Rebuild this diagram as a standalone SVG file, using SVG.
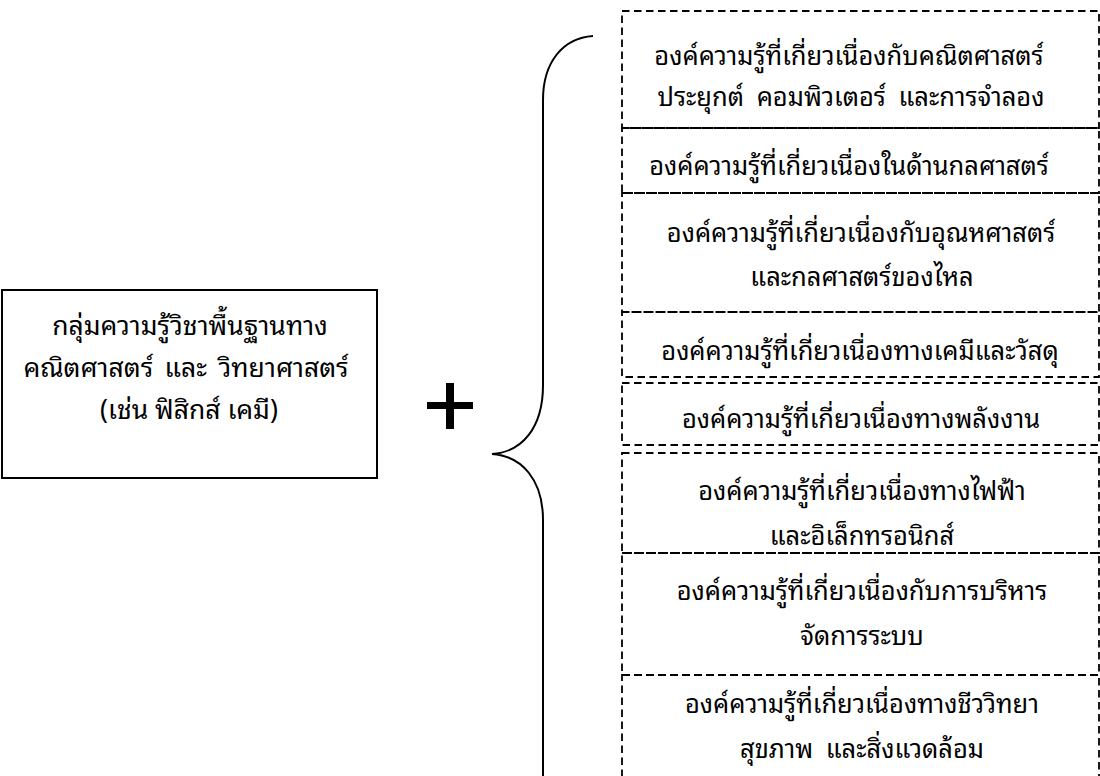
<svg xmlns="http://www.w3.org/2000/svg" width="1100" height="776" viewBox="0 0 1100 776">
<style>
text{font-family:"Noto Sans Thai Looped","Loma","Noto Sans Thai","Noto Sans","DejaVu Sans",sans-serif;font-size:25.5px;fill:#000;text-anchor:middle;word-spacing:6px}
.lt{font-size:26.5px}
.dbox{fill:none;stroke:#000;stroke-width:1.8;stroke-dasharray:7.5,4.5}
.sbox{fill:#fff;stroke:#000;stroke-width:2}
.brace{fill:none;stroke:#000;stroke-width:2}
</style>
<rect width="1100" height="776" fill="#fff"/>
<g id="base">
<rect class="sbox" x="2" y="290" width="375" height="188"/>
<text class="lt" x="190" y="335">กลุ่มความรู้วิชาพื้นฐานทาง</text>
<text class="lt" x="186" y="377" style="word-spacing:4.5px">คณิตศาสตร์ และ วิทยาศาสตร์</text>
<text class="lt" x="189" y="419" style="word-spacing:0">(เช่น ฟิสิกส์ เคมี)</text>
</g>
<g id="plus">
<rect x="427" y="402" width="46" height="7" fill="#000"/>
<rect x="446" y="383" width="8" height="46" fill="#000"/>
</g>
<g id="connectors">
<path class="brace" d="M593 36 C563 38 543 62 543 100 L543 385 C543 428 522 452 492 454 C522 456 543 480 543 520 L543 776"/>
</g>
<g id="k1"><rect class="dbox" x="622" y="11" width="477" height="117"/>
<text x="849" y="65">องค์ความรู้ที่เกี่ยวเนื่องกับคณิตศาสตร์</text>
<text x="851" y="106">ประยุกต์ คอมพิวเตอร์ และการจำลอง</text></g>
<g id="k2"><rect class="dbox" x="622" y="128" width="477" height="65"/>
<text x="849" y="175">องค์ความรู้ที่เกี่ยวเนื่องในด้านกลศาสตร์</text></g>
<g id="k3"><rect class="dbox" x="622" y="193" width="477" height="119"/>
<text x="861" y="242">องค์ความรู้ที่เกี่ยวเนื่องกับอุณหศาสตร์</text>
<text x="862" y="286">และกลศาสตร์ของไหล</text></g>
<g id="k4"><rect class="dbox" x="622" y="312" width="477" height="65"/>
<text x="860" y="360">องค์ความรู้ที่เกี่ยวเนื่องทางเคมีและวัสดุ</text></g>
<g id="k5"><rect class="dbox" x="622" y="383" width="477" height="62"/>
<text x="861" y="428">องค์ความรู้ที่เกี่ยวเนื่องทางพลังงาน</text></g>
<g id="k6"><rect class="dbox" x="622" y="453" width="477" height="100"/>
<text x="862" y="500">องค์ความรู้ที่เกี่ยวเนื่องทางไฟฟ้า</text>
<text x="862" y="545">และอิเล็กทรอนิกส์</text></g>
<g id="k7"><rect class="dbox" x="622" y="553" width="477" height="122"/>
<text x="862" y="600">องค์ความรู้ที่เกี่ยวเนื่องกับการบริหาร</text>
<text x="862" y="645">จัดการระบบ</text></g>
<g id="k8"><rect class="dbox" x="622" y="675" width="477" height="120"/>
<text x="862" y="713">องค์ความรู้ที่เกี่ยวเนื่องทางชีววิทยา</text>
<text x="862" y="758">สุขภาพ และสิ่งแวดล้อม</text></g>
</svg>
